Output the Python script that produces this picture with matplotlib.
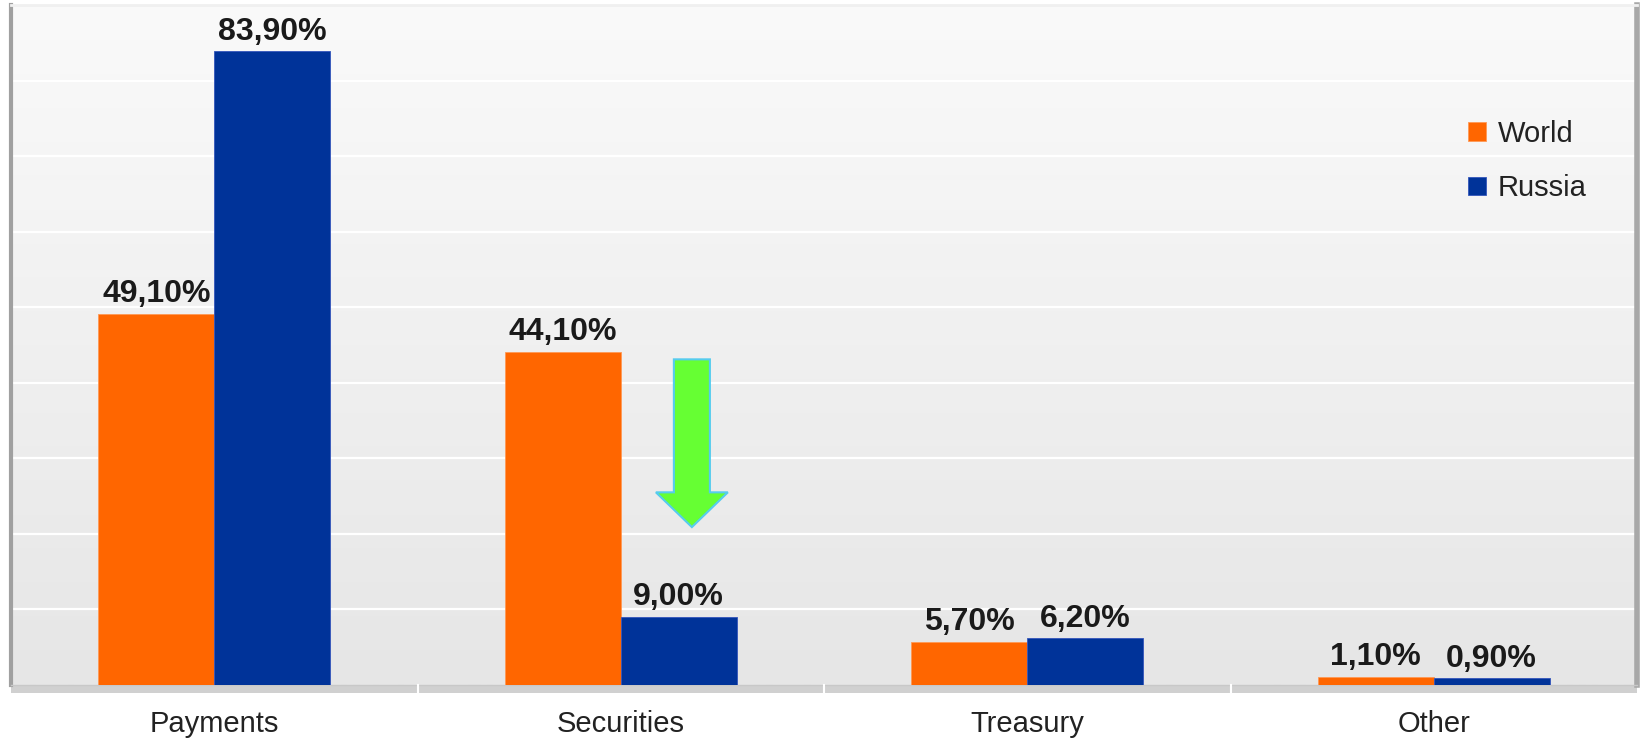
import numpy as np
import matplotlib
matplotlib.use("Agg")
import matplotlib.pyplot as plt
from matplotlib.patches import FancyArrow, Rectangle

plt.rcParams["font.family"] = ["Liberation Sans", "DejaVu Sans"]

categories = ["Payments", "Securities", "Treasury", "Other"]
world = [49.1, 44.1, 5.7, 1.1]
russia = [83.9, 9.0, 6.2, 0.9]
series_names = ["World", "Russia"]

ORANGE = "#FF6600"
BLUE = "#003399"


def pct(v):
    return f"{v:.2f}".replace(".", ",") + "%"


fig = plt.figure(figsize=(16.42, 7.43), dpi=100)
ax = fig.add_axes([11 / 1642, 58 / 743, 1626 / 1642, 680 / 743])

# soft vertical gradient on the back wall
grad = np.linspace(0, 1, 256).reshape(-1, 1)
ax.imshow(grad, extent=[-0.5, 3.5, 0, 90], aspect="auto", origin="lower",
          cmap=matplotlib.colors.LinearSegmentedColormap.from_list("wall", ["#E6E6E6", "#FAFAFA"]),
          zorder=0)

x = np.arange(len(categories))
w = 0.285
b1 = ax.bar(x - w / 2, world, w, color=ORANGE, edgecolor="#FF9955", linewidth=0.6,
            label=series_names[0], zorder=3)
b2 = ax.bar(x + w / 2, russia, w, color=BLUE, edgecolor="#3355BB", linewidth=0.6,
            label=series_names[1], zorder=3)

for bars, vals in ((b1, world), (b2, russia)):
    for r, v in zip(bars, vals):
        ax.text(r.get_x() + r.get_width() / 2, v + 0.6, pct(v), ha="center", va="bottom",
                fontsize=23, fontweight="bold", color="#1a1a1a", zorder=4)

ax.set_xlim(-0.5, 3.5)
ax.set_ylim(0, 90)
ax.set_yticks(np.arange(10, 90, 10))
ax.yaxis.grid(True, color="white", linewidth=1.6, zorder=1)
ax.tick_params(axis="y", left=False, labelleft=False)
ax.set_xticks(x)
ax.set_xticklabels(categories, fontsize=21, color="#222222")
ax.tick_params(axis="x", length=0, pad=18)

ax.spines["top"].set_color("#F0F0F0")
ax.spines["top"].set_linewidth(2)
ax.spines["left"].set_color("#A0A0A0")
ax.spines["left"].set_linewidth(3)
ax.spines["right"].set_color("#A8A8A8")
ax.spines["right"].set_linewidth(4)
ax.spines["bottom"].set_color("#C8C8C8")
ax.spines["bottom"].set_linewidth(1)

# floor strip under the bars
ax.add_patch(Rectangle((0, -0.012), 1, 0.012, transform=ax.transAxes, clip_on=False,
                       facecolor="#D0D0D0", edgecolor="none", zorder=2))
for xb in (0.5, 1.5, 2.5):
    ax.plot([xb, xb], [-0.012, 0], transform=ax.get_xaxis_transform(), color="white",
            linewidth=1.5, clip_on=False, zorder=3)

# green down arrow next to Securities
ax.add_patch(FancyArrow(1.175, 43.1, 0, -22.2, width=0.0886, head_width=0.177,
                        head_length=4.6, length_includes_head=True,
                        facecolor="#66FF33", edgecolor="#55CCEE", linewidth=1.5, zorder=4))

ax.legend(loc="upper right", bbox_to_anchor=(0.985, 0.87), frameon=False, fontsize=21,
          handlelength=0.6, handleheight=0.6, handletextpad=0.4, labelspacing=0.92,
          labelcolor="#222222")

fig.savefig("out.png", dpi=100, facecolor="white")
